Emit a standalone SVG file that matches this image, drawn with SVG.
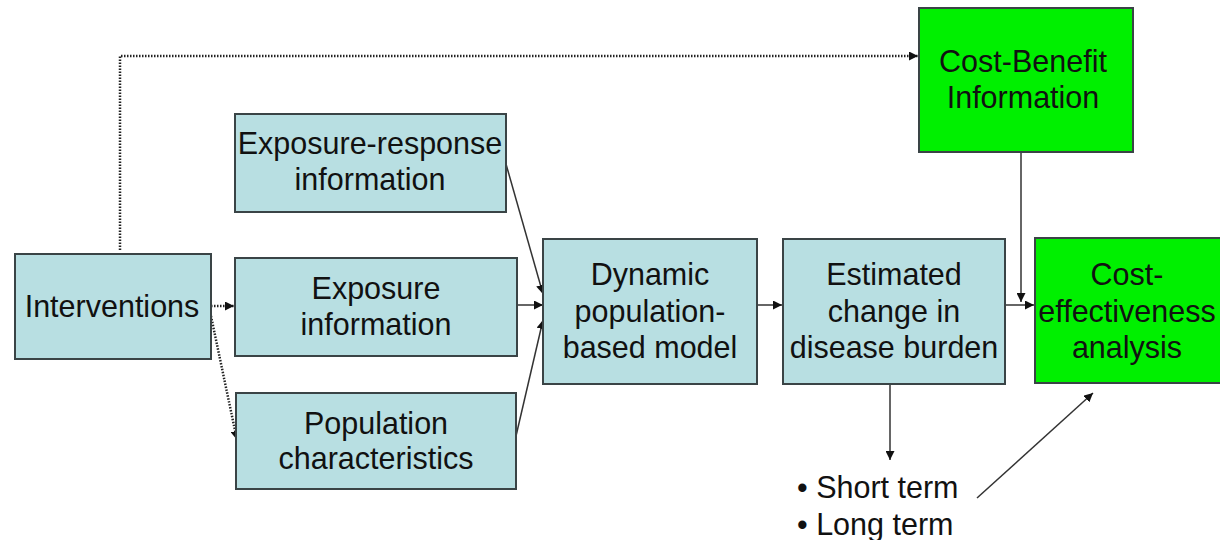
<svg xmlns="http://www.w3.org/2000/svg" width="1220" height="540" viewBox="0 0 1220 540">
  <style>
    .box { fill: #b8dfe2; stroke: #3a4446; stroke-width: 2; }
    .green { fill: #00f000; stroke: #3a4446; stroke-width: 2; }
    text { font-family: "Liberation Sans", Arial, sans-serif; font-size: 30.5px; fill: #111; text-anchor: middle; }
    .left { text-anchor: start; }
    .solid { fill: none; stroke: #333; stroke-width: 1.5; }
    .dot { fill: none; stroke: #222; stroke-width: 2.5; stroke-dasharray: 1.5 1.5; }
  </style>
  <defs>
    <marker id="arr" viewBox="0 0 10 10" refX="10" refY="5" markerWidth="9" markerHeight="9" markerUnits="userSpaceOnUse" orient="auto">
      <path d="M0,0 L10,5 L0,10 z" fill="#111"/>
    </marker>
  </defs>
  <rect width="1220" height="540" fill="#fff"/>

  <g id="connectors">
    <!-- dotted flows from Interventions -->
    <polyline class="dot" points="120,250 120,56 918,56" marker-end="url(#arr)"/>
    <line class="dot" x1="211" y1="306" x2="234" y2="306" marker-end="url(#arr)"/>
    <line class="dot" x1="211" y1="316" x2="237" y2="440" marker-end="url(#arr)"/>
    <!-- inputs to the model -->
    <line class="solid" x1="506" y1="164" x2="543" y2="294" marker-end="url(#arr)"/>
    <line class="solid" x1="517" y1="305" x2="543" y2="305" marker-end="url(#arr)"/>
    <line class="solid" x1="516" y1="436" x2="543" y2="320" marker-end="url(#arr)"/>
    <!-- main chain -->
    <line class="solid" x1="757" y1="305" x2="782" y2="305" marker-end="url(#arr)"/>
    <line class="solid" x1="1005" y1="305" x2="1034" y2="305" marker-end="url(#arr)"/>
    <line class="solid" x1="1021" y1="152" x2="1021" y2="302" marker-end="url(#arr)"/>
    <line class="solid" x1="890" y1="384" x2="890" y2="460" marker-end="url(#arr)"/>
    <line class="solid" x1="977" y1="498" x2="1093" y2="393" marker-end="url(#arr)"/>
  </g>

  <g id="interventions">
    <rect class="box" x="15" y="254" width="196" height="105"/>
    <text x="112" y="317">Interventions</text>
  </g>

  <g id="exposure-response">
    <rect class="box" x="235" y="114" width="271" height="98"/>
    <text x="370" y="154">Exposure-response</text>
    <text x="370" y="190">information</text>
  </g>

  <g id="exposure">
    <rect class="box" x="235" y="258" width="282" height="98"/>
    <text x="376" y="299">Exposure</text>
    <text x="376" y="335">information</text>
  </g>

  <g id="population">
    <rect class="box" x="236" y="393" width="280" height="96"/>
    <text x="376" y="434">Population</text>
    <text x="376" y="469">characteristics</text>
  </g>

  <g id="model">
    <rect class="box" x="543" y="239" width="214" height="145"/>
    <text x="650" y="285">Dynamic</text>
    <text x="650" y="322">population-</text>
    <text x="650" y="358">based model</text>
  </g>

  <g id="burden">
    <rect class="box" x="783" y="239" width="222" height="145"/>
    <text x="894" y="285">Estimated</text>
    <text x="894" y="322">change in</text>
    <text x="894" y="358">disease burden</text>
  </g>

  <g id="cost-benefit">
    <rect class="green" x="919" y="8" width="214" height="144"/>
    <text x="1023" y="72">Cost-Benefit</text>
    <text x="1023" y="108">Information</text>
  </g>

  <g id="cost-effectiveness">
    <rect class="green" x="1035" y="238" width="190" height="145"/>
    <text x="1127" y="285">Cost-</text>
    <text x="1127" y="322">effectiveness</text>
    <text x="1127" y="358">analysis</text>
  </g>

  <g id="terms">
    <text class="left" x="797" y="498">• Short term</text>
    <text class="left" x="797" y="535">• Long term</text>
  </g>
</svg>
